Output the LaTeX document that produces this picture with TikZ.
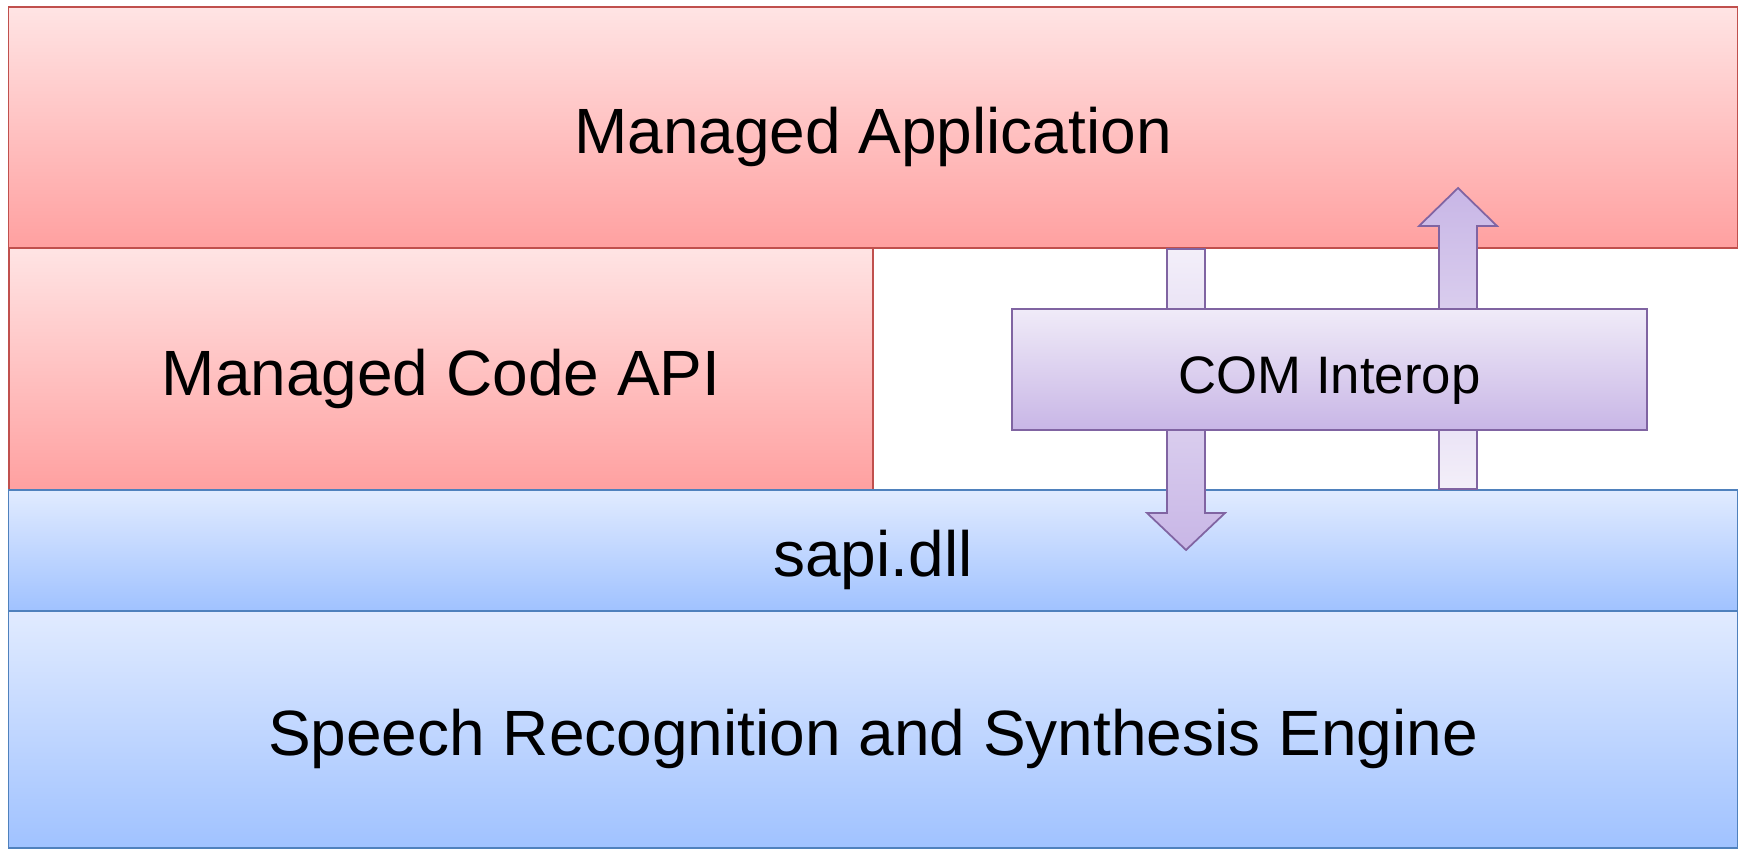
\documentclass[tikz,border=0pt]{standalone}
\usepackage{fontspec}
\setmainfont{Liberation Sans}
\usetikzlibrary{calc}

\definecolor{redtop}{RGB}{255,228,228}
\definecolor{redbot}{RGB}{255,160,160}
\definecolor{redline}{RGB}{192,80,77}
\definecolor{bluetop}{RGB}{225,235,255}
\definecolor{bluebot}{RGB}{160,194,255}
\definecolor{blueline}{RGB}{79,129,189}
\definecolor{purptop}{RGB}{240,235,248}
\definecolor{purpbot}{RGB}{200,182,230}
\definecolor{purpline}{RGB}{128,100,162}

\tikzstyle{layer}=[rectangle,draw,line width=0.5pt,inner sep=0pt,text height=0.65cm,text depth=0.13cm,font=\fontsize{18.2}{22}\selectfont]
\tikzstyle{managed}=[layer,draw=redline,top color=redtop,bottom color=redbot]
\tikzstyle{native}=[layer,draw=blueline,top color=bluetop,bottom color=bluebot]
\tikzstyle{interop}=[layer,draw=purpline,top color=purptop,bottom color=purpbot,text height=0.6cm,font=\fontsize{15}{18}\selectfont]
\tikzstyle{fatarrow}=[draw=purpline,line width=0.5pt]

\begin{document}
\begin{tikzpicture}[x=0.01cm,y=-0.01cm]
    \useasboundingbox (0,0) rectangle (1740,849);
    % Managed side
    \node[managed,minimum width=17.28cm,minimum height=2.41cm] (app) at (873,127.5) {Managed Application};
    \node[managed,minimum width=8.64cm,minimum height=2.42cm] (api) at (441,369) {Managed Code API};
    % Native side
    \node[native,minimum width=17.28cm,minimum height=1.21cm] (sapi) at (873,550.5) {sapi.dll};
    \node[native,minimum width=17.28cm,minimum height=2.37cm] (engine) at (873,729.5) {Speech Recognition and Synthesis Engine};
    % Block arrows, drawn before the interop box so it hides them
    \coordinate (dtail) at (app.south -| 1186,0);
    \coordinate (dtip) at (1186,550);
    \coordinate (utail) at (sapi.north -| 1458,0);
    \coordinate (utip) at (1458,188);
    \draw[fatarrow,top color=purptop!80!white,bottom color=purpbot] (dtail) ++(-19,0) |- ($(dtip)+(-39,-37)$) -- (dtip) -- ++(39,-37) -| ($(dtail)+(19,0)$) -- cycle;
    \draw[fatarrow,top color=purpbot,bottom color=purptop!80!white] (utail) ++(-19,0) |- ($(utip)+(-39,38)$) -- (utip) -- ++(39,38) -| ($(utail)+(19,0)$) -- cycle;
    % Interop box
    \node[interop,minimum width=6.35cm,minimum height=1.21cm] (com) at (1329.5,369.5) {COM Interop};
\end{tikzpicture}
\end{document}
